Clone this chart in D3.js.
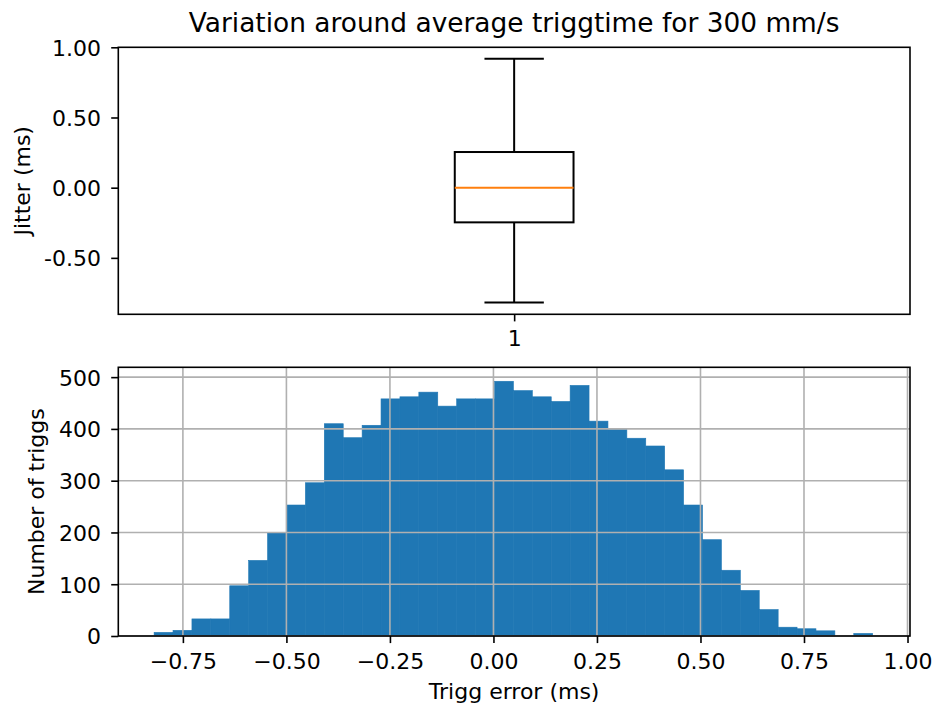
<!DOCTYPE html>
<html>
<head>
<meta charset="utf-8">
<script src="https://cdn.jsdelivr.net/npm/d3@7"></script>
<style>
  html, body { margin: 0; padding: 0; background: #fff; }
  svg { display: block; }
  text { font-family: "DejaVu Sans", sans-serif; fill: #000; }
</style>
</head>
<body>
<svg id="chart" width="936" height="706"></svg>
<script>
// ---------- data ----------
const titleText = "Variation around average triggtime for 300 mm/s";

// box plot (top panel)
const boxCategories = ["1"];
const boxWhiskerLow = [-0.818];
const boxQ1 = [-0.247];
const boxMedian = [0.0];
const boxQ3 = [0.254];
const boxWhiskerHigh = [0.918];
const boxYTicks = [-0.5, 0.0, 0.5, 1.0];

// histogram (bottom panel): 38 equal-width bins
const histRange = [-0.8195, 0.9159];
const histCounts = [7, 11, 33, 33, 97, 146, 199, 253, 296, 410,
                    383, 407, 458, 462, 471, 444, 458, 458, 492, 474,
                    462, 453, 484, 415, 399, 382, 367, 321, 253, 186,
                    127, 88, 51, 17, 14, 10, 0, 5];
const histXTicks = [-0.75, -0.5, -0.25, 0.0, 0.25, 0.5, 0.75, 1.0];
const histYTicks = [0, 100, 200, 300, 400, 500];

// ---------- layout ----------
const svg = d3.select("#chart");
const FS = 22, TFS = 26.4;
const L = 118.3, R = 910;
const top1 = 47.3, bot1 = 314.3;
const top2 = 367.3, bot2 = 636;
const tickLen = 7.1, spineW = 1.6;

// ---------- top panel: boxplot ----------
const xBox = d3.scaleLinear().domain([0.5, 1.5]).range([L, R]);
const yBox = d3.scaleLinear().domain([-0.902, 1.0]).range([bot1, top1]);
const g1 = svg.append("g");

const boxW = 0.15, capW = 0.075;
boxCategories.forEach((c, i) => {
  const pos = i + 1;
  const lineAttrs = sel => sel.attr("stroke", "#000").attr("stroke-width", 2).attr("fill", "none");
  g1.append("line").call(lineAttrs)
    .attr("x1", xBox(pos)).attr("x2", xBox(pos))
    .attr("y1", yBox(boxQ1[i])).attr("y2", yBox(boxWhiskerLow[i]));
  g1.append("line").call(lineAttrs)
    .attr("x1", xBox(pos)).attr("x2", xBox(pos))
    .attr("y1", yBox(boxQ3[i])).attr("y2", yBox(boxWhiskerHigh[i]));
  [boxWhiskerLow[i], boxWhiskerHigh[i]].forEach(v => {
    g1.append("line").call(lineAttrs)
      .attr("x1", xBox(pos - capW / 2)).attr("x2", xBox(pos + capW / 2))
      .attr("y1", yBox(v)).attr("y2", yBox(v));
  });
  g1.append("rect").call(lineAttrs)
    .attr("x", xBox(pos - boxW / 2)).attr("width", xBox(pos + boxW / 2) - xBox(pos - boxW / 2))
    .attr("y", yBox(boxQ3[i])).attr("height", yBox(boxQ1[i]) - yBox(boxQ3[i]));
  g1.append("line")
    .attr("stroke", "#ff7f0e").attr("stroke-width", 2)
    .attr("x1", xBox(pos - boxW / 2)).attr("x2", xBox(pos + boxW / 2))
    .attr("y1", yBox(boxMedian[i])).attr("y2", yBox(boxMedian[i]));
});

const yAxis1 = d3.axisLeft(yBox).tickValues(boxYTicks).tickSize(tickLen).tickPadding(0)
  .tickFormat(d => d3.format(".2f")(d).replace("\u2212", "-"));
const ya1 = svg.append("g").attr("transform", `translate(${L},0)`).call(yAxis1);
const xAxis1 = d3.axisBottom(xBox).tickValues([1]).tickSize(tickLen).tickPadding(0)
  .tickFormat((d, i) => boxCategories[i]);
const xa1 = svg.append("g").attr("transform", `translate(0,${bot1})`).call(xAxis1);

g1.append("rect").attr("x", L).attr("y", top1).attr("width", R - L).attr("height", bot1 - top1)
  .attr("fill", "none").attr("stroke", "#000").attr("stroke-width", spineW);

// ---------- bottom panel: histogram ----------
const xH = d3.scaleLinear().domain([-0.906, 1.006]).range([L, R]);
const yH = d3.scaleLinear().domain([0, 519]).range([bot2, top2]);
const binEdges = d3.range(histCounts.length + 1).map(k => histRange[0] + k * (histRange[1] - histRange[0]) / histCounts.length);
const bins = histCounts.map((c, k) => ({ x0: binEdges[k], x1: binEdges[k + 1], n: c }));

const g2 = svg.append("g");
g2.selectAll("rect.bar").data(bins.filter(d => d.n > 0)).enter().append("rect")
  .attr("class", "bar")
  .attr("x", d => xH(d.x0))
  .attr("width", d => xH(d.x1) - xH(d.x0))
  .attr("y", d => yH(d.n))
  .attr("height", d => yH(0) - yH(d.n))
  .attr("fill", "#1f77b4")
  .attr("stroke", "#1f77b4")
  .attr("stroke-width", 0.6);

const grid = svg.append("g");
histXTicks.forEach(t => {
  grid.append("line").attr("x1", xH(t)).attr("x2", xH(t)).attr("y1", top2).attr("y2", bot2)
    .attr("stroke", "#b0b0b0").attr("stroke-width", 1.6);
});
histYTicks.forEach(t => {
  grid.append("line").attr("x1", L).attr("x2", R).attr("y1", yH(t)).attr("y2", yH(t))
    .attr("stroke", "#b0b0b0").attr("stroke-width", 1.6);
});

const xAxis2 = d3.axisBottom(xH).tickValues(histXTicks).tickSize(tickLen).tickPadding(0)
  .tickFormat(d => d3.format(".2f")(d));
const xa2 = svg.append("g").attr("transform", `translate(0,${bot2})`).call(xAxis2);
const yAxis2 = d3.axisLeft(yH).tickValues(histYTicks).tickSize(tickLen).tickPadding(0)
  .tickFormat(d3.format("d"));
const ya2 = svg.append("g").attr("transform", `translate(${L},0)`).call(yAxis2);

svg.append("rect").attr("x", L).attr("y", top2).attr("width", R - L).attr("height", bot2 - top2)
  .attr("fill", "none").attr("stroke", "#000").attr("stroke-width", spineW);

[ya1, xa1, xa2, ya2].forEach(a => {
  a.select(".domain").remove();
  a.selectAll(".tick line").attr("stroke", "#000").attr("stroke-width", spineW);
  a.selectAll(".tick text").attr("font-size", FS).attr("font-family", "DejaVu Sans").attr("fill", "#000");
});
[ya1, ya2].forEach(a => {
  a.selectAll(".tick text").attr("x", -(L - 101)).attr("dy", null).attr("y", 0.36 * FS)
    .attr("text-anchor", "end");
});
xa1.selectAll(".tick text").attr("dy", null).attr("y", 346 - bot1);
xa2.selectAll(".tick text").attr("dy", null).attr("y", 669 - bot2);

// ---------- texts ----------
svg.append("text").attr("x", (L + R) / 2).attr("y", 32).attr("text-anchor", "middle")
  .attr("font-size", TFS).text(titleText);
svg.append("text").attr("transform", `translate(30,${(top1 + bot1) / 2}) rotate(-90)`)
  .attr("text-anchor", "middle").attr("font-size", FS).text("Jitter (ms)");
svg.append("text").attr("transform", `translate(44,${(top2 + bot2) / 2}) rotate(-90)`)
  .attr("text-anchor", "middle").attr("font-size", FS).text("Number of triggs");
svg.append("text").attr("x", (L + R) / 2).attr("y", 699).attr("text-anchor", "middle")
  .attr("font-size", FS).text("Trigg error (ms)");
</script>
</body>
</html>
